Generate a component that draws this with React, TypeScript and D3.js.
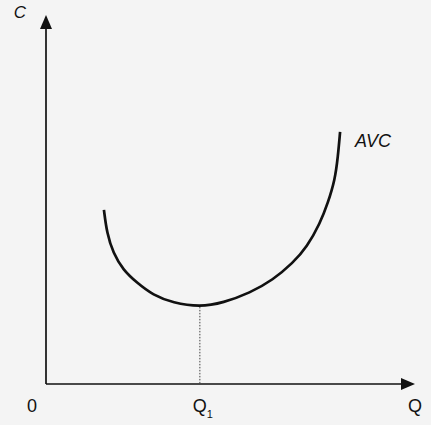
import React from "react";
import * as d3 from "d3";

const curveQ = [15.7, 16.5, 18.2, 20.9, 24.7, 29.0, 34.4, 41.7, 48.0, 55.3, 61.5, 66.9, 70.7, 74.3, 76.4, 78.3, 79.1, 79.7];
const curveC = [47.2, 40.9, 35.5, 30.9, 27.4, 24.1, 22.0, 20.9, 22.0, 24.7, 28.2, 32.8, 37.1, 43.6, 49.1, 55.3, 61.5, 68.3];
const minQ = 41.7;
const minC = 20.9;
const curveLabel = "AVC";

export default function App() {
  const W = 431, H = 425;
  const x = d3.scaleLinear().domain([0, 100]).range([46, 415]);
  const y = d3.scaleLinear().domain([0, 100]).range([384, 15]);
  const pts: [number, number][] = curveQ.map((q, i) => [x(q), y(curveC[i])]);
  const line = d3.line().curve(d3.curveBasis)(pts) || "";
  const font = "'Liberation Sans', Arial, sans-serif";
  const x0 = x(0), y0 = y(0);
  return (
    <svg width={W} height={H} style={{ position: "fixed", left: 0, top: 0, background: "#f4f4f4" }}>
      <rect width={W} height={H} fill="#f4f4f4" />
      {/* axes */}
      <line x1={x0} y1={y0} x2={x0} y2={y(97)} stroke="#111" strokeWidth={1.7} />
      <line x1={x0} y1={y0} x2={x(97)} y2={y0} stroke="#111" strokeWidth={1.7} />
      <path d={`M${x0},${y(100)} L${x0 - 6},${y(100) + 14} L${x0 + 6},${y(100) + 14} Z`} fill="#111" />
      <path d={`M${x(100)},${y0} L${x(100) - 14},${y0 - 6} L${x(100) - 14},${y0 + 6} Z`} fill="#111" />
      {/* dotted drop line */}
      <line x1={x(minQ)} y1={y(minC)} x2={x(minQ)} y2={y0} stroke="#444" strokeWidth={1} strokeDasharray="1.5,1.5" />
      {/* curve */}
      <path d={line} fill="none" stroke="#111" strokeWidth={2.7} strokeLinecap="butt" />
      {/* labels */}
      <text x={20} y={18} fontFamily={font} fontSize={17} fontStyle="italic" textAnchor="middle" fill="#111">C</text>
      <text x={355} y={147} fontFamily={font} fontSize={18} fontStyle="italic" fill="#111">{curveLabel}</text>
      <text x={32} y={412} fontFamily={font} fontSize={18} textAnchor="middle" fill="#111">0</text>
      <text x={x(minQ)} y={412} fontFamily={font} fontSize={18} textAnchor="middle" fill="#111">Q</text>
      <text x={x(minQ) + 10} y={418} fontFamily={font} fontSize={11} textAnchor="middle" fill="#111">1</text>
      <text x={415} y={412} fontFamily={font} fontSize={18} textAnchor="middle" fill="#111">Q</text>
    </svg>
  );
}
